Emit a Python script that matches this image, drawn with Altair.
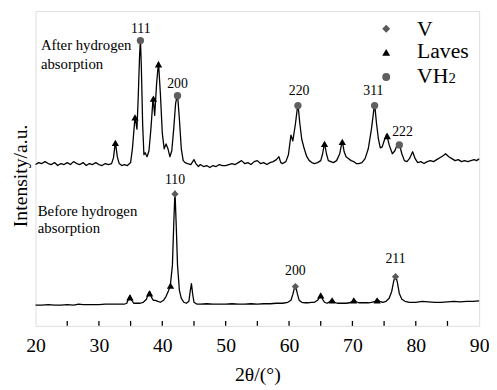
import altair as alt
import pandas as pd

FONT = "Liberation Serif, Times New Roman, Times, serif"

# ---- traces (2theta in degrees, intensity in arbitrary offset units) ----
after_x = [20.0, 20.5, 21.0, 21.5, 22.0, 22.5, 23.0, 23.5, 24.0, 24.5, 25.0, 25.5, 26.0, 26.5, 27.0,
           27.5, 28.0, 28.5, 29.0, 29.5, 30.0, 30.5, 31.0, 31.5, 32.0, 32.3, 32.6, 32.9, 33.2, 33.6,
           34.0, 34.5, 35.0, 35.3, 35.7, 36.0, 36.2, 36.4, 36.55, 36.7, 36.9, 37.1, 37.3, 37.6, 37.9,
           38.2, 38.55, 38.8, 39.1, 39.4, 39.7, 40.0, 40.3, 40.6, 40.9, 41.2, 41.5, 41.8, 42.1, 42.4,
           42.7, 43.0, 43.3, 43.6, 44.0, 44.5, 45.0, 45.3, 45.7, 46.0, 46.5, 47.0, 47.5, 48.0, 48.5,
           49.0, 49.5, 50.0, 50.5, 51.0, 51.5, 52.0, 52.5, 53.0, 53.5, 54.0, 54.5, 55.0, 55.5, 56.0,
           56.5, 57.0, 57.5, 58.0, 58.4, 58.7, 59.0, 59.5, 59.9, 60.3, 60.6, 61.0, 61.4, 61.7, 62.0,
           62.4, 62.8, 63.2, 63.6, 64.0, 64.5, 65.0, 65.3, 65.6, 65.9, 66.2, 66.6, 67.0, 67.5, 68.0,
           68.4, 68.7, 69.0, 69.4, 69.8, 70.2, 70.6, 71.0, 71.5, 72.0, 72.5, 73.0, 73.5, 73.8, 74.1,
           74.4, 74.7, 75.0, 75.4, 75.8, 76.3, 76.7, 77.0, 77.4, 77.8, 78.2, 78.6, 79.0, 79.5, 79.9,
           80.3, 80.8, 81.3, 81.8, 82.3, 82.8, 83.3, 83.8, 84.3, 84.7, 85.2, 85.7, 86.2, 86.7, 87.2,
           87.7, 88.2, 88.7, 89.2, 89.6, 90.0]
after_y = [164, 166, 165, 167, 165, 164, 166, 163, 165, 164, 166, 164, 167, 165, 164,
           166, 163, 165, 164, 166, 164, 163, 165, 164, 165, 171, 187, 172, 165, 163,
           164, 163, 166, 181, 213, 200, 232, 272, 292, 262, 205, 174, 176, 172, 178,
           200, 232, 214, 246, 268, 236, 196, 180, 185, 180, 172, 178, 200, 226, 236,
           210, 180, 168, 166, 165, 164, 169, 165, 162, 164, 162, 163, 161, 163, 162,
           164, 163, 163, 164, 165, 164, 166, 168, 165, 166, 164, 167, 168, 165, 166,
           164, 166, 167, 169, 172, 166, 165, 167, 174, 194, 188, 205, 226, 206, 190,
           180, 172, 168, 166, 165, 166, 168, 175, 186, 175, 168, 167, 166, 168, 175,
           188, 177, 172, 170, 168, 167, 165, 165, 166, 170, 180, 200, 226, 206, 190,
           181, 182, 188, 195, 184, 175, 178, 183, 185, 175, 168, 167, 170, 177, 170,
           166, 167, 165, 167, 168, 167, 169, 171, 173, 175, 172, 170, 168, 169, 167,
           168, 167, 168, 169, 168, 170]

before_x = [20.0, 21.0, 22.0, 23.0, 24.0, 25.0, 26.0, 26.8, 27.5, 28.0, 29.0, 30.0, 31.0, 32.0, 33.0,
            34.0, 34.4, 34.7, 34.9, 35.2, 35.5, 36.0, 36.5, 37.0, 37.5, 37.8, 38.0, 38.3, 38.6, 38.9,
            39.3, 39.7, 40.2, 40.6, 41.0, 41.3, 41.6, 41.8, 42.0, 42.2, 42.4, 42.7, 43.0, 43.4, 43.8,
            44.2, 44.4, 44.6, 44.8, 45.0, 45.5, 46.0, 47.0, 48.0, 49.0, 50.0, 51.0, 52.0, 53.0, 54.0,
            55.0, 56.0, 57.0, 58.0, 59.0, 59.8, 60.3, 60.6, 60.9, 61.0, 61.3, 61.6, 62.0, 62.5, 63.0,
            63.5, 64.0, 64.5, 64.8, 65.0, 65.3, 65.6, 66.0, 66.4, 66.8, 67.2, 67.6, 68.0, 68.5, 69.0,
            69.6, 70.0, 70.3, 70.6, 71.0, 71.5, 72.0, 72.5, 73.0, 73.6, 73.9, 74.3, 74.8, 75.3, 75.8,
            76.2, 76.5, 76.8, 77.1, 77.4, 77.8, 78.3, 79.0, 80.0, 81.0, 82.0, 83.0, 84.0, 85.0, 86.0,
            87.0, 88.0, 89.0, 90.0]
before_y = [21, 21, 21.5, 21, 21, 21.5, 21, 22, 21.5, 21.5, 21.5, 21.5, 22, 22, 22,
            22, 23, 28, 31, 26, 23, 23, 23, 24, 27, 33, 35, 29, 26, 26,
            25, 24, 26, 30, 36, 43, 62, 102, 137, 102, 62, 36, 28, 24, 23,
            25, 35, 43, 32, 24, 22, 22, 22.5, 22, 22, 22, 22.5, 22, 22, 22.5,
            22, 22.5, 22.5, 23, 23, 24, 26, 32, 40, 42, 33, 26, 24, 23.5, 23.5,
            24, 24, 26, 29, 32, 27, 24, 23, 24.5, 27, 24, 23, 23, 23, 23,
            23.5, 25, 27, 24.5, 23.5, 23.5, 23.5, 23.5, 24, 25, 27, 25, 24, 25, 28,
            35, 45, 52, 44, 33, 27, 25, 24, 24, 25, 24.5, 24, 24, 24.5, 25,
            24.5, 25, 25, 25.5]

# ---- phase markers ----
marker_type = ["V", "V", "V",
               "Laves", "Laves", "Laves", "Laves", "Laves", "Laves", "Laves",
               "Laves", "Laves", "Laves", "Laves", "Laves", "Laves", "Laves",
               "VH2", "VH2", "VH2", "VH2", "VH2"]
marker_x = [42.0, 61.0, 76.8,
            34.9, 38.0, 41.3, 65.0, 66.8, 70.2, 73.9,
            32.6, 35.7, 38.6, 39.4, 65.6, 68.4, 75.5,
            36.55, 42.4, 61.4, 73.5, 77.4]
marker_y = [134, 40, 50,
            29, 33, 41, 31, 26, 26, 26,
            186, 212, 231, 266, 185, 187, 193,
            290, 234, 224, 224, 184]

# ---- peak labels (hkl) ----
peak_label = ["110", "200", "211", "111", "200", "220", "311", "222"]
peak_label_x = [42.0, 61.0, 76.8, 36.6, 42.4, 61.6, 73.3, 77.9]
peak_label_y = [148, 56, 68, 302, 246, 239, 239, 197]

# ---- sample annotations ----
note_text = ["After hydrogen", "absorption", "Before hydrogen", "absorption"]
note_x = [20.85, 20.85, 20.35, 20.35]
note_y = [285, 266, 117, 99]

# ---- legend ----
legend_type = ["V", "Laves", "VH2"]
legend_label = ["V", "Laves", "VH"]
legend_marker_x = [75.33, 75.33, 75.33]
legend_text_x = [80.2, 80.2, 80.2]
legend_marker_y = [302, 278, 253]
legend_text_y = [302, 279, 254]
legend_sub = ["2"]
legend_sub_x = [80.2]
legend_sub_y = [254]

x_tick_values = [20, 30, 40, 50, 60, 70, 80, 90]
minor_ticks = [25, 30, 35, 40, 45, 50, 55, 60, 65, 70, 75, 80, 85]

W, H = 451, 320

traces = pd.concat([
    pd.DataFrame({"x": after_x, "y": after_y, "s": "after"}),
    pd.DataFrame({"x": before_x, "y": before_y, "s": "before"}),
])
markers = pd.DataFrame({"t": marker_type, "x": marker_x, "y": marker_y})
labels = pd.DataFrame({"l": peak_label, "x": peak_label_x, "y": peak_label_y})
notes = pd.DataFrame({"l": note_text, "x": note_x, "y": note_y})
legend = pd.DataFrame({"t": legend_type, "l": legend_label, "mx": legend_marker_x,
                       "tx": legend_text_x, "my": legend_marker_y, "ty": legend_text_y})
legend2 = pd.DataFrame({"l": legend_sub, "x": legend_sub_x, "y": legend_sub_y})
ticks = pd.DataFrame({"x": minor_ticks})

xscale = alt.Scale(domain=[20, 90], nice=False, zero=False)
yscale = alt.Scale(domain=[0, 320], nice=False, zero=False)

xaxis = alt.Axis(values=x_tick_values, format="d", ticks=False, domain=False, grid=False,
                 labelFont=FONT, labelFontSize=20, labelColor="black", labelPadding=10,
                 title="2θ/(°)", titleFont=FONT, titleFontSize=20, titleFontWeight="normal",
                 titleColor="black", titlePadding=10, labelFlush=False)
yaxis = alt.Axis(labels=False, ticks=False, domain=False, grid=False,
                 title="Intensity/a.u.", titleFont=FONT, titleFontSize=20,
                 titleFontWeight="normal", titleColor="black", titlePadding=5, titleY=167)

shape_scale = alt.Scale(domain=["V", "Laves", "VH2"], range=["diamond", "triangle-up", "circle"])
color_scale = alt.Scale(domain=["V", "Laves", "VH2"], range=["#5a5a5a", "#000000", "#5f5f5f"])

lines = alt.Chart(traces).mark_line(color="black", strokeWidth=1.3, strokeJoin="round").encode(
    x=alt.X("x:Q", scale=xscale, axis=xaxis),
    y=alt.Y("y:Q", scale=yscale, axis=yaxis),
    detail="s:N",
    order=alt.Order("x:Q"),
)

pts = alt.Chart(markers).mark_point(filled=True, size=55, opacity=1).encode(
    x="x:Q", y="y:Q",
    shape=alt.Shape("t:N", scale=shape_scale, legend=None),
    color=alt.Color("t:N", scale=color_scale, legend=None),
)

peak_text = alt.Chart(labels).mark_text(font=FONT, fontSize=14, color="black").encode(
    x="x:Q", y="y:Q", text="l:N")

note_marks = alt.Chart(notes).mark_text(font=FONT, fontSize=15, color="black", align="left").encode(
    x="x:Q", y="y:Q", text="l:N")

leg_pts = alt.Chart(legend).mark_point(filled=True, size=65, opacity=1).encode(
    x="mx:Q", y="my:Q",
    shape=alt.Shape("t:N", scale=shape_scale, legend=None),
    color=alt.Color("t:N", scale=color_scale, legend=None),
)
leg_text = alt.Chart(legend).mark_text(font=FONT, fontSize=22, color="black", align="left",
                                       baseline="alphabetic", dy=7).encode(
    x="tx:Q", y="ty:Q", text="l:N")
leg_sub = alt.Chart(legend2).mark_text(font=FONT, fontSize=15, color="black", align="left",
                                       baseline="alphabetic", dx=32, dy=7).encode(
    x="x:Q", y="y:Q", text="l:N")

tick_marks = alt.Chart(ticks).mark_rule(color="black", strokeWidth=1.3).encode(
    x="x:Q", y=alt.value(H), y2=alt.value(H - 5))

chart = alt.layer(lines, tick_marks, pts, peak_text, note_marks, leg_pts, leg_text, leg_sub).properties(
    width=W, height=H,
    autosize=alt.AutoSizeParams(type="none"),
    padding={"left": 28, "top": 0, "right": 10, "bottom": 60},
).configure_view(stroke="black", strokeWidth=1.5).configure(
    background="white", font=FONT
).configure_axis(labelFont=FONT, titleFont=FONT).configure_text(font=FONT)

chart.save("out.html", embed_options={"renderer": "svg", "actions": False})
